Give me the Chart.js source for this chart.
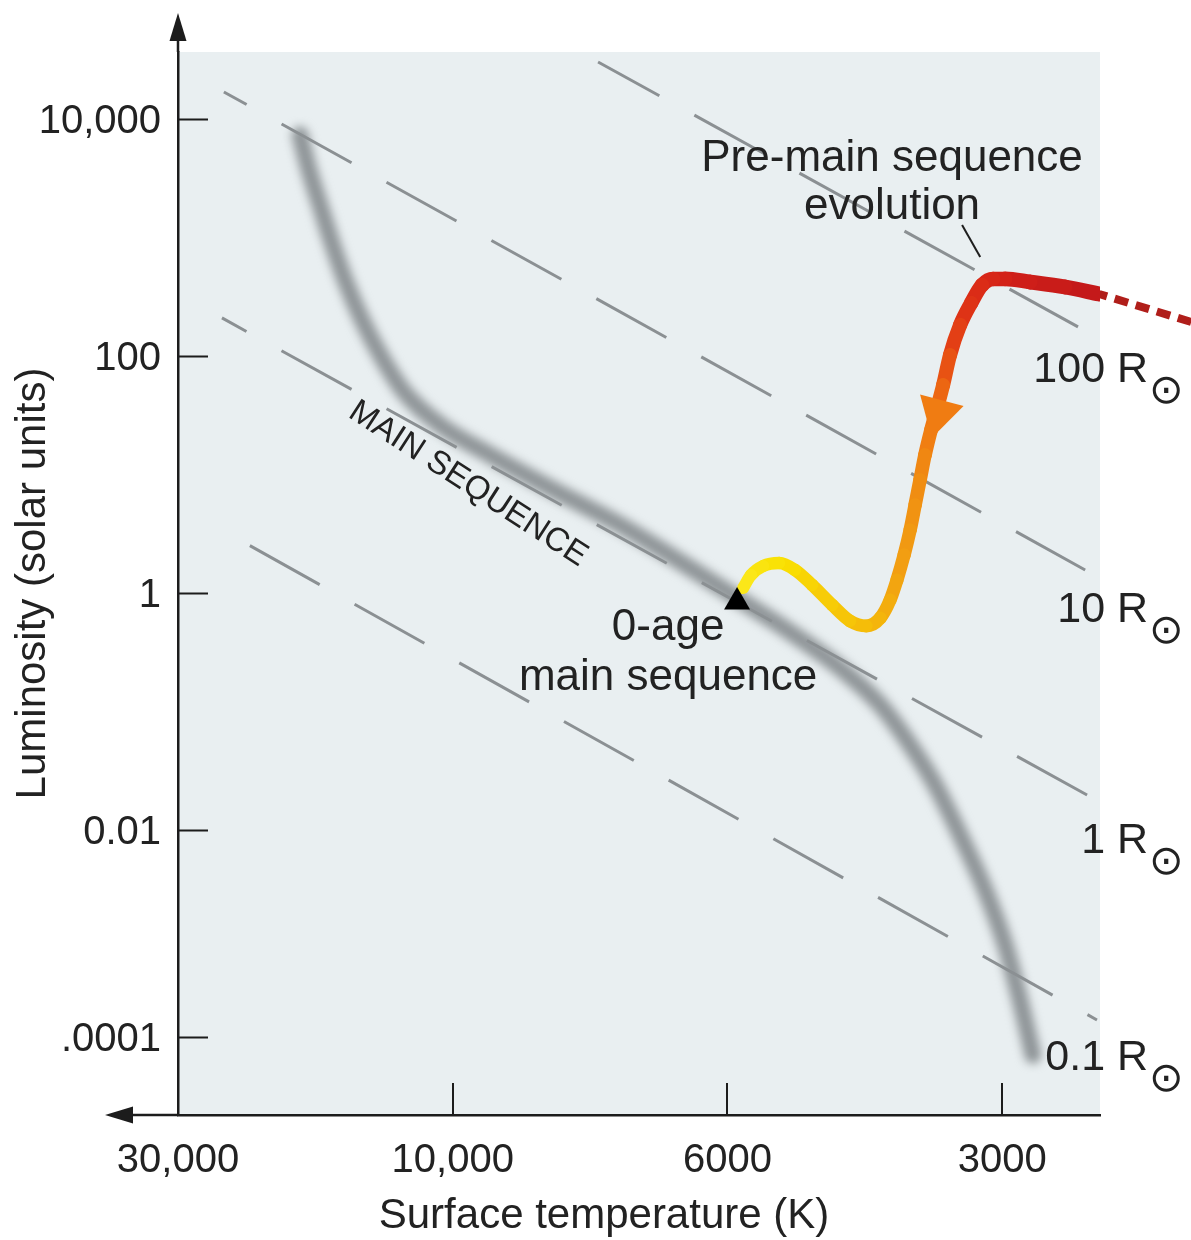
<!DOCTYPE html>
<html>
<head>
<meta charset="utf-8">
<title>Pre-main-sequence evolution on the H-R diagram</title>
<script src="https://cdn.jsdelivr.net/npm/chart.js@4.4.1/dist/chart.umd.min.js"></script>
<style>
  html, body { margin: 0; padding: 0; background: #ffffff; }
  canvas { display: block; }
</style>
</head>
<body>
<canvas id="hr" width="1191" height="1240"></canvas>
<script>
// ---- Axis ticks -------------------------------------------------------
// Temperature axis: evenly spaced tick slots, hot on the left, cool on the right
const TEMP_TICK_POS = [0, 1, 2, 3];
const TEMP_TICK_LABELS = ['30,000', '10,000', '6000', '3000'];
// Luminosity axis in log10(L / Lsun)
const LUM_TICK_POS = [4, 2, 0, -2, -3.75];
const LUM_TICK_LABELS = ['10,000', '100', '1', '0.01', '.0001'];

// ---- Main sequence band ----------------------------------------------
const MS_X = [0.444, 0.477, 0.517, 0.557, 0.608, 0.670, 0.743, 0.826, 0.954, 1.136, 1.354, 1.609,
              1.864, 2.035, 2.228, 2.410, 2.556, 2.665, 2.756, 2.847, 2.938, 3.011, 3.065, 3.112];
const MS_Y = [3.865, 3.570, 3.274, 2.979, 2.641, 2.304, 1.983, 1.688, 1.418, 1.165, 0.886, 0.574,
              0.211, -0.042, -0.329, -0.633, -0.945, -1.283, -1.620, -2.042, -2.506, -2.970, -3.435, -3.899];

// ---- Lines of constant stellar radius ---------------------------------
const RADIUS_LABELS = ['100', '10', '1', '0.1'];
const RADIUS_X0 = [1.529, 0.167, 0.160, 0.160];
const RADIUS_Y0 = [4.481, 4.228, 2.321, 0.532];
const RADIUS_X1 = [3.276, 3.302, 3.309, 3.345];
const RADIUS_Y1 = [2.245, 0.194, -1.705, -3.603];
const RADIUS_LABEL_X = [3.531, 3.531, 3.531, 3.531];
const RADIUS_LABEL_Y = [1.781, -0.245, -2.194, -4.025];

// ---- Pre-main-sequence track (from the top right down to the ZAMS) ----
const TRACK_EARLY_X = [3.688, 3.353];
const TRACK_EARLY_Y = [2.287, 2.523];
const TRACK_X = [3.353, 3.229, 3.102, 3.011, 2.967, 2.927, 2.887, 2.847, 2.810, 2.785, 2.763, 2.741, 2.719, 2.701, 2.683,
                 2.665, 2.643, 2.617, 2.592, 2.556, 2.505, 2.446, 2.381, 2.308, 2.246, 2.188, 2.130, 2.086, 2.057];
const TRACK_Y = [2.523, 2.582, 2.624, 2.650, 2.650, 2.599, 2.447, 2.262, 2.008, 1.755, 1.561, 1.376, 1.165, 0.954, 0.743,
                 0.532, 0.321, 0.110, -0.059, -0.211, -0.278, -0.236, -0.101, 0.068, 0.194, 0.253, 0.228, 0.152, 0.042];
const ARROW_X = [2.768];
const ARROW_Y = [1.520];
const ZAMS_X = [2.035];
const ZAMS_Y = [-0.076];

// Leader from the "evolution" caption to the track
const LEADER_X = [2.854, 2.920];
const LEADER_Y = [3.105, 2.835];

// ---- Styling ------------------------------------------------------------
const FONT = "'Liberation Sans', Arial, Helvetica, sans-serif";
const INK = '#222222';
const PANEL = '#e9eff1';
// colour along the track, by fraction of its length
const TRACK_STOPS = [
  [0.00, [194, 24, 26]], [0.14, [213, 34, 24]], [0.25, [224, 54, 22]], [0.32, [234, 90, 18]],
  [0.36, [239, 114, 18]], [0.45, [240, 136, 18]], [0.60, [242, 160, 18]], [0.71, [244, 184, 10]],
  [0.82, [247, 208, 6]], [0.89, [249, 224, 0]], [1.00, [251, 232, 30]]
];

function pts(xa, ya) { return xa.map((x, i) => ({ x, y: ya[i] })); }

function trackColor(f) {
  for (let i = 1; i < TRACK_STOPS.length; i++) {
    const [f1, c1] = TRACK_STOPS[i];
    const [f0, c0] = TRACK_STOPS[i - 1];
    if (f <= f1) {
      const t = (f - f0) / (f1 - f0);
      const c = c0.map((v, k) => Math.round(v + (c1[k] - v) * t));
      return `rgb(${c[0]},${c[1]},${c[2]})`;
    }
  }
  const c = TRACK_STOPS[TRACK_STOPS.length - 1][1];
  return `rgb(${c[0]},${c[1]},${c[2]})`;
}

const trackFrac = ctx => (ctx.p0DataIndex + 0.5) / (TRACK_X.length - 1);

const radiusSets = RADIUS_LABELS.map((r, i) => ({
  label: r + ' Rsun',
  data: pts([RADIUS_X0[i], RADIUS_X1[i]], [RADIUS_Y0[i], RADIUS_Y1[i]]),
  showLine: true,
  borderColor: '#8b9093',
  borderWidth: 3,
  borderDash: [80, 40],
  borderDashOffset: [10, 54, 52, 88][i],
  pointRadius: 0,
  order: 5
}));

const datasets = [
  {
    label: 'ZAMS',
    data: pts(ZAMS_X, ZAMS_Y),
    showLine: false,
    pointStyle: 'triangle',
    pointRadius: 15,
    pointBackgroundColor: '#000000',
    pointBorderWidth: 0,
    order: 0
  },
  {
    label: 'direction',
    data: pts(ARROW_X, ARROW_Y),
    showLine: false,
    pointStyle: 'triangle',
    pointRadius: 26,
    pointRotation: 195,
    pointBackgroundColor: '#f07c12',
    pointBorderWidth: 0,
    order: 1
  },
  {
    label: 'track',
    data: pts(TRACK_X, TRACK_Y),
    showLine: true,
    cubicInterpolationMode: 'monotone',
    borderWidth: 13,
    borderColor: '#e05010',
    borderCapStyle: 'round',
    borderJoinStyle: 'round',
    pointRadius: 0,
    segment: {
      borderColor: ctx => trackColor(trackFrac(ctx)),
      borderWidth: ctx => 15 - 3 * trackFrac(ctx)
    },
    order: 2
  },
  {
    label: 'track (early)',
    data: pts(TRACK_EARLY_X, TRACK_EARLY_Y),
    showLine: true,
    borderColor: '#b01e1a',
    borderWidth: 8,
    borderDash: [14, 8],
    pointRadius: 0,
    clip: false,
    order: 3
  },
  {
    label: 'leader',
    data: pts(LEADER_X, LEADER_Y),
    showLine: true,
    borderColor: '#1e1e1e',
    borderWidth: 2,
    pointRadius: 0,
    order: 4
  },
  ...radiusSets,
  {
    label: 'main sequence',
    data: pts(MS_X, MS_Y),
    showLine: true,
    cubicInterpolationMode: 'monotone',
    borderColor: '#8f9598',
    borderWidth: 17,
    borderCapStyle: 'round',
    borderJoinStyle: 'round',
    pointRadius: 0,
    order: 6
  }
];

const BAND_INDEX = datasets.length - 1;

const decorations = {
  id: 'decorations',
  beforeDraw(chart) {
    const { ctx, chartArea: a } = chart;
    ctx.save();
    ctx.fillStyle = PANEL;
    ctx.fillRect(a.left, a.top, a.right - a.left, a.bottom - a.top);
    ctx.restore();
  },
  beforeDatasetDraw(chart, args) {
    if (args.index === BAND_INDEX) {
      chart.ctx.save();
      chart.ctx.filter = 'blur(5px)';
    }
  },
  afterDatasetDraw(chart, args) {
    if (args.index === BAND_INDEX) chart.ctx.restore();
  },
  afterDraw(chart) {
    const { ctx, chartArea: a, scales: { x, y } } = chart;
    ctx.save();
    // axis arrows
    ctx.strokeStyle = '#1c1c1c';
    ctx.fillStyle = '#1c1c1c';
    ctx.lineWidth = 2.5;
    ctx.beginPath();
    ctx.moveTo(a.left, a.top);
    ctx.lineTo(a.left, a.top - 14);
    ctx.moveTo(a.left, a.bottom);
    ctx.lineTo(a.left - 46, a.bottom);
    ctx.stroke();
    ctx.beginPath();
    ctx.moveTo(a.left, a.top - 39);
    ctx.lineTo(a.left - 8.5, a.top - 11);
    ctx.lineTo(a.left + 8.5, a.top - 11);
    ctx.closePath();
    ctx.fill();
    ctx.beginPath();
    ctx.moveTo(a.left - 73, a.bottom);
    ctx.lineTo(a.left - 45, a.bottom - 8.5);
    ctx.lineTo(a.left - 45, a.bottom + 8.5);
    ctx.closePath();
    ctx.fill();
    // tick marks pointing into the panel
    ctx.lineWidth = 2;
    ctx.beginPath();
    y.ticks.forEach(t => {
      const py = Math.round(y.getPixelForValue(t.value)) + 0.5;
      ctx.moveTo(a.left, py);
      ctx.lineTo(a.left + 30, py);
    });
    x.ticks.forEach(t => {
      if (t.value === TEMP_TICK_POS[0]) return;
      const pxv = Math.round(x.getPixelForValue(t.value));
      ctx.moveTo(pxv, a.bottom);
      ctx.lineTo(pxv, a.bottom - 32);
    });
    ctx.stroke();

    // captions
    ctx.fillStyle = INK;
    ctx.textBaseline = 'alphabetic';
    ctx.textAlign = 'center';
    ctx.font = `44px ${FONT}`;
    const P = (vx, vy) => [x.getPixelForValue(vx), y.getPixelForValue(vy)];
    let p = P(2.599, 3.561); ctx.fillText('Pre-main sequence', p[0], p[1]);
    p = P(2.599, 3.156); ctx.fillText('evolution', p[0], p[1]);
    p = P(1.784, -0.397); ctx.fillText('0-age', p[0], p[1]);
    p = P(1.784, -0.819); ctx.fillText('main sequence', p[0], p[1]);

    // x-axis title
    ctx.font = `42px ${FONT}`;
    ctx.fillText('Surface temperature (K)', 604, 1228);

    // main sequence tag
    p = P(1.056, 0.920);
    ctx.save();
    ctx.translate(p[0], p[1]);
    ctx.rotate(33 * Math.PI / 180);
    ctx.font = `33px ${FONT}`;
    ctx.textBaseline = 'middle';
    ctx.fillText('MAIN SEQUENCE', 0, 0);
    ctx.restore();

    // radius labels
    RADIUS_LABELS.forEach((r, i) => {
      const q = P(RADIUS_LABEL_X[i], RADIUS_LABEL_Y[i]);
      ctx.textAlign = 'right';
      ctx.textBaseline = 'alphabetic';
      ctx.font = `43px ${FONT}`;
      ctx.fillText(r + ' R', q[0], q[1]);
      ctx.textAlign = 'left';
      ctx.textBaseline = 'middle';
      ctx.font = `41px 'DejaVu Sans', sans-serif`;
      ctx.fillText('\u2299', q[0] + 1, q[1] + 10);
    });
    ctx.restore();
  }
};

Chart.defaults.font.family = FONT;
Chart.defaults.color = INK;

new Chart(document.getElementById('hr'), {
  type: 'scatter',
  data: { datasets },
  options: {
    responsive: false,
    animation: false,
    events: [],
    layout: { padding: { top: 52, right: 91, bottom: 0, left: 0 } },
    plugins: { legend: { display: false }, tooltip: { enabled: false } },
    scales: {
      x: {
        type: 'linear',
        min: 0,
        max: 3.356,
        afterFit(scale) { scale.height = 125; },
        afterBuildTicks(scale) { scale.ticks = TEMP_TICK_POS.map(v => ({ value: v })); },
        ticks: {
          font: { size: 40 },
          color: INK,
          padding: 22,
          maxRotation: 0,
          autoSkip: false,
          callback: (v, i) => TEMP_TICK_LABELS[i]
        },
        grid: { display: false, drawTicks: false },
        border: { display: true, color: '#1c1c1c', width: 2.5 }
      },
      y: {
        type: 'linear',
        min: -4.405,
        max: 4.565,
        afterFit(scale) { scale.width = 178; },
        afterBuildTicks(scale) { scale.ticks = LUM_TICK_POS.map(v => ({ value: v })); },
        ticks: {
          font: { size: 40 },
          color: INK,
          padding: 17,
          labelOffset: 3,
          autoSkip: false,
          callback: (v, i) => LUM_TICK_LABELS[i]
        },
        grid: { display: false, drawTicks: false },
        border: { display: true, color: '#1c1c1c', width: 2.5 },
        title: {
          display: true,
          text: 'Luminosity (solar units)',
          font: { size: 42 },
          color: INK,
          padding: { top: 8, bottom: 0 }
        }
      }
    }
  },
  plugins: [decorations]
});
</script>
</body>
</html>
